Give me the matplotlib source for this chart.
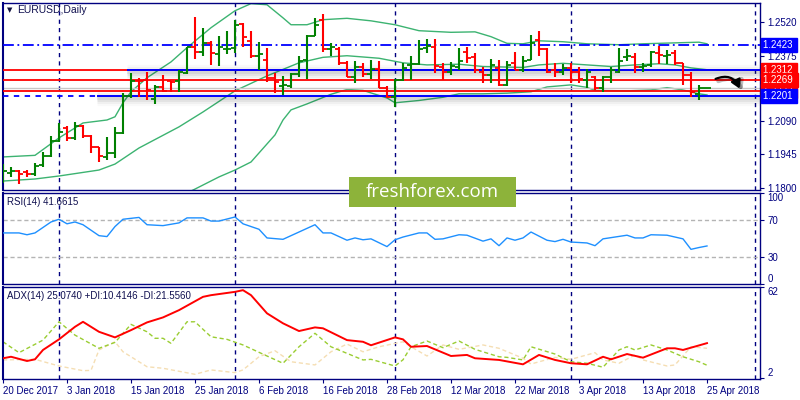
import numpy as np
import pandas as pd
import matplotlib
matplotlib.use("Agg")
import matplotlib.pyplot as plt
import matplotlib.transforms as mtransforms
from matplotlib.patches import FancyArrowPatch, Rectangle

plt.rcParams["font.family"] = ["Liberation Sans", "DejaVu Sans"]

NAVY = "#000080"
BULL = "#008000"
BEAR = "#FF0000"
BAND = "#3CB371"
FS = 7

# trading days (weekdays, no Christmas / New Year)
holidays = ["2017-12-25", "2018-01-01"]
dates = pd.bdate_range("2017-12-20", "2018-04-25")
dates = dates[~dates.isin(pd.to_datetime(holidays))]
tick_labels = ["20 Dec 2017", "3 Jan 2018", "15 Jan 2018", "25 Jan 2018", "6 Feb 2018",
               "16 Feb 2018", "28 Feb 2018", "12 Mar 2018", "22 Mar 2018", "3 Apr 2018",
               "13 Apr 2018", "25 Apr 2018"]
separators = [7, 29, 49, 71, 94]  # first bar of each month (last one is in the future area)

opens = [1.1864, 1.1866, 1.1874, 1.1867, 1.1860, 1.1899, 1.1940, 1.2005, 1.2059, 1.2015,
         1.2069, 1.2027, 1.1976, 1.1935, 1.1950, 1.2037, 1.2200, 1.2267, 1.2270, 1.2186,
         1.2238, 1.2266, 1.2263, 1.2299, 1.2415, 1.2393, 1.2430, 1.2382, 1.2404, 1.2408,
         1.2514, 1.2437, 1.2375, 1.2357, 1.2279, 1.2244, 1.2244, 1.2296, 1.2357, 1.2462,
         1.2532, 1.2404, 1.2405, 1.2343, 1.2284, 1.2324, 1.2295, 1.2317, 1.2234, 1.2197,
         1.2270, 1.2335, 1.2338, 1.2408, 1.2415, 1.2328, 1.2306, 1.2328, 1.2393, 1.2369,
         1.2306, 1.2292, 1.2321, 1.2248, 1.2343, 1.2314, 1.2357, 1.2444, 1.2404, 1.2314,
         1.2302, 1.2321, 1.2302, 1.2270, 1.2284, 1.2234, 1.2284, 1.2306, 1.2369, 1.2369,
         1.2324, 1.2335, 1.2386, 1.2375, 1.2386, 1.2343, 1.2292, 1.2209, 1.2234]
highs = [1.1903, 1.1892, 1.1877, 1.1877, 1.1909, 1.1957, 1.2026, 1.2082, 1.2069, 1.2088,
         1.2074, 1.2030, 1.1979, 1.2023, 1.2065, 1.2213, 1.2300, 1.2279, 1.2306, 1.2248,
         1.2292, 1.2267, 1.2314, 1.2415, 1.2544, 1.2496, 1.2437, 1.2459, 1.2481, 1.2529,
         1.2517, 1.2481, 1.2433, 1.2408, 1.2300, 1.2287, 1.2300, 1.2372, 1.2466, 1.2539,
         1.2558, 1.2431, 1.2415, 1.2350, 1.2353, 1.2343, 1.2357, 1.2350, 1.2241, 1.2273,
         1.2343, 1.2372, 1.2444, 1.2448, 1.2448, 1.2343, 1.2347, 1.2408, 1.2415, 1.2386,
         1.2328, 1.2360, 1.2357, 1.2350, 1.2391, 1.2375, 1.2466, 1.2481, 1.2408, 1.2343,
         1.2340, 1.2345, 1.2328, 1.2317, 1.2287, 1.2287, 1.2328, 1.2408, 1.2404, 1.2386,
         1.2345, 1.2396, 1.2418, 1.2401, 1.2398, 1.2343, 1.2306, 1.2248, 1.2234]
lows = [1.1821, 1.1848, 1.1816, 1.1848, 1.1852, 1.1892, 1.1935, 1.2001, 1.2005, 1.2008,
        1.2018, 1.1953, 1.1914, 1.1921, 1.1930, 1.2034, 1.2191, 1.2197, 1.2180, 1.2165,
        1.2219, 1.2216, 1.2219, 1.2296, 1.2360, 1.2372, 1.2335, 1.2331, 1.2383, 1.2386,
        1.2415, 1.2365, 1.2314, 1.2259, 1.2213, 1.2204, 1.2235, 1.2284, 1.2274, 1.2459,
        1.2393, 1.2372, 1.2335, 1.2282, 1.2258, 1.2284, 1.2273, 1.2234, 1.2190, 1.2153,
        1.2267, 1.2270, 1.2335, 1.2386, 1.2299, 1.2270, 1.2289, 1.2314, 1.2343, 1.2299,
        1.2258, 1.2258, 1.2244, 1.2244, 1.2314, 1.2306, 1.2357, 1.2372, 1.2299, 1.2284,
        1.2292, 1.2256, 1.2256, 1.2234, 1.2226, 1.2215, 1.2256, 1.2299, 1.2350, 1.2299,
        1.2306, 1.2328, 1.2340, 1.2340, 1.2335, 1.2248, 1.2197, 1.2183, 1.2234]
closes = [1.1873, 1.1872, 1.1860, 1.1860, 1.1896, 1.1940, 1.2004, 1.2044, 1.2015, 1.2069,
          1.2027, 1.1976, 1.1938, 1.1950, 1.2037, 1.2200, 1.2263, 1.2263, 1.2226, 1.2238,
          1.2223, 1.2262, 1.2302, 1.2411, 1.2393, 1.2430, 1.2386, 1.2415, 1.2405, 1.2510,
          1.2456, 1.2372, 1.2382, 1.2279, 1.2261, 1.2248, 1.2296, 1.2350, 1.2462, 1.2510,
          1.2404, 1.2413, 1.2344, 1.2284, 1.2328, 1.2295, 1.2317, 1.2234, 1.2197, 1.2270,
          1.2321, 1.2338, 1.2404, 1.2418, 1.2331, 1.2306, 1.2332, 1.2350, 1.2365, 1.2311,
          1.2292, 1.2335, 1.2248, 1.2335, 1.2314, 1.2350, 1.2430, 1.2404, 1.2306, 1.2304,
          1.2321, 1.2302, 1.2273, 1.2302, 1.2234, 1.2284, 1.2314, 1.2354, 1.2375, 1.2328,
          1.2331, 1.2393, 1.2379, 1.2379, 1.2345, 1.2292, 1.2215, 1.2234, 1.2234]

# Bollinger bands, read at selected bars
bb_up_idx = [0, 4, 7, 10, 13, 14, 15, 16, 18, 21, 23, 26, 29, 31, 33, 35, 36, 38, 40, 43,
             46, 49, 52, 56, 59, 61, 63, 65, 67, 70, 73, 77, 80, 84, 87, 88]
bb_up = [1.1934, 1.1941, 1.2017, 1.2082, 1.2095, 1.2109, 1.2170, 1.2218, 1.2279, 1.2348,
         1.2410, 1.2497, 1.2571, 1.2602, 1.2597, 1.2540, 1.2510, 1.2510, 1.2532, 1.2538,
         1.2527, 1.2510, 1.2484, 1.2477, 1.2479, 1.2458, 1.2429, 1.2427, 1.2440, 1.2436,
         1.2427, 1.2423, 1.2427, 1.2431, 1.2434, 1.2427]
bb_mid_idx = [0, 4, 7, 12, 14, 17, 22, 25, 29, 33, 37, 40, 43, 47, 50, 53, 57, 60, 65, 67,
              70, 73, 76, 79, 82, 84, 86, 88]
bb_mid = [1.1829, 1.1838, 1.1851, 1.1877, 1.1903, 1.1973, 1.2065, 1.2130, 1.2222, 1.2287,
          1.2344, 1.2368, 1.2375, 1.2364, 1.2344, 1.2335, 1.2338, 1.2328, 1.2324, 1.2335,
          1.2342, 1.2335, 1.2328, 1.2335, 1.2340, 1.2335, 1.2322, 1.2314]
bb_low_idx = [23, 24, 27, 29, 31, 34, 35, 36, 38, 41, 43, 45, 48, 49, 52, 55, 57, 60, 63,
              66, 68, 71, 73, 74, 78, 81, 83, 85, 87, 88]
bb_low = [1.1777, 1.1794, 1.1847, 1.1877, 1.1912, 1.2030, 1.2095, 1.2139, 1.2165, 1.2207,
          1.2228, 1.2224, 1.2191, 1.2170, 1.2180, 1.2194, 1.2209, 1.2209, 1.2212, 1.2218,
          1.2239, 1.2248, 1.2237, 1.2224, 1.2222, 1.2226, 1.2236, 1.2226, 1.2209, 1.2204]

rsi_idx = [0, 2, 3, 4, 6, 7, 8, 9, 10, 12, 13, 14, 15, 17, 18, 20, 22, 23, 25, 26, 27, 29,
           30, 32, 33, 35, 39, 40, 41, 43, 44, 45, 46, 48, 49, 50, 52, 53, 54, 55, 57, 58,
           60, 61, 62, 63, 64, 65, 66, 68, 69, 70, 71, 73, 74, 75, 78, 79, 80, 81, 83, 85,
           86, 87, 88]
rsi = [56, 56, 54, 56, 68, 71, 66, 68, 65, 53, 52, 63, 71, 73, 65, 64, 67, 72.5, 72.5, 69,
       69, 73.5, 66, 60, 50.5, 49, 65, 56, 56, 48, 50.5, 48.5, 49.5, 41, 48.5, 51.5, 56, 56,
       49, 49.5, 54, 53.5, 47, 49.5, 42, 50.5, 48, 50.5, 57, 48, 46.5, 49, 46, 45, 42, 49.5,
       53.5, 50.5, 50.5, 54, 53.5, 49.5, 38, 40, 41.7]

adx_idx = [0, 1, 3, 4, 5, 7, 9, 10, 12, 14, 16, 18, 20, 22, 25, 26, 29, 30, 31, 33, 35, 37,
           39, 40, 43, 45, 46, 49, 50, 51, 53, 56, 58, 59, 62, 65, 67, 69, 71, 73, 75, 76,
           78, 80, 83, 84, 85, 86, 88]
adx = [15, 16, 13.2, 14.3, 20.5, 27.5, 35.8, 39.1, 32.5, 28.8, 33.6, 38.7, 42, 46.8, 55.6,
       56.7, 58.9, 60, 56.7, 44.7, 38.1, 33, 35.4, 34.8, 27, 25.9, 23.6, 28.8, 27.5, 22.6,
       23.1, 16.5, 17.2, 15, 13.9, 11, 17.2, 13.9, 11.7, 11, 16, 14.3, 17.8, 15.4, 21.6,
       21.6, 20.5, 22, 25]
pdi_idx = [0, 2, 5, 7, 9, 12, 14, 16, 18, 19, 20, 21, 23, 24, 26, 28, 30, 33, 35, 37, 39,
           41, 45, 46, 49, 50, 51, 53, 55, 57, 59, 62, 63, 65, 66, 69, 71, 73, 75, 77, 78,
           79, 81, 83, 85, 87, 88]
pdi = [25.9, 18.7, 27, 39.1, 30.3, 21.6, 25.5, 37.4, 32.5, 28.2, 28.2, 24.9, 39.1, 39.1,
       29.2, 27.5, 23.8, 16.5, 11.7, 22.6, 31.5, 22.6, 13.9, 14.3, 9.9, 14, 22.6, 26.4, 22,
       26.4, 20.9, 16, 15.6, 13.9, 22.6, 17.8, 12.7, 11.7, 9.1, 20.5, 22.6, 20.5, 23.8, 20.5,
       16, 12.7, 10.4]
mdi_idx = [0, 4, 7, 10, 11, 12, 14, 15, 18, 20, 24, 26, 29, 30, 32, 34, 36, 39, 41, 43, 45,
           47, 50, 51, 53, 55, 57, 60, 62, 65, 66, 69, 71, 74, 75, 77, 79, 80, 83, 84, 86, 88]
mdi = [13.9, 14.3, 9.9, 6.8, 7, 20.5, 25.9, 19.3, 9.4, 8.4, 4.4, 7.3, 5.5, 7.3, 16, 20,
       12.7, 10.6, 19.3, 24.4, 19.3, 22.6, 25.9, 22.6, 16.5, 23.8, 20.9, 23.8, 21.6, 15,
       11.2, 15.6, 14.3, 18.7, 13.9, 11.7, 17.2, 13.9, 9.9, 10.6, 22.6, 21.6]

# drawn objects
resistance = 1.2423
box_top, box_bot = 1.2312, 1.2201
red_levels = [1.2312, 1.2269, 1.2222]
box_top_start, box_bot_start = 15.5, 11.75

n = len(dates)
x = np.arange(n)
opens, highs, lows, closes = map(np.array, (opens, highs, lows, closes))

fig = plt.figure(figsize=(8, 4), dpi=100)
L, W = 3 / 800, 757 / 800
ax_p = fig.add_axes([L, 1 - 190 / 400, W, 187.3 / 400])
ax_r = fig.add_axes([L, 1 - 284 / 400, W, 91.2 / 400])
ax_a = fig.add_axes([L, 1 - 379 / 400, W, 92.3 / 400])
xmax = 757 / 8

for ax in (ax_p, ax_r, ax_a):
    ax.set_xlim(0, xmax)
    for s in ax.spines.values():
        s.set_color(NAVY)
        s.set_linewidth(1.0)
    ax.spines["left"].set_linewidth(1.5)
    ax.yaxis.tick_right()
    ax.tick_params(axis="y", direction="out", length=3, color=NAVY, labelcolor=NAVY,
                   labelsize=FS, pad=2.5)
    ax.tick_params(axis="x", bottom=False, labelbottom=False)
    for s in separators:
        ax.axvline(s, color=NAVY, lw=1, ls=(0, (3, 3)), zorder=1)

# ---- price panel
ax_p.set_ylim(1.1790, 1.2606)
ax_p.set_yticks([1.2520, 1.2375, 1.2090, 1.1945, 1.1800])
ax_p.set_yticklabels(["1.2520", "1.2375", "1.2090", "1.1945", "1.1800"])

ax_p.plot(bb_up_idx, bb_up, color=BAND, lw=1, zorder=2)
ax_p.plot(bb_mid_idx, bb_mid, color=BAND, lw=1, zorder=2)
ax_p.plot(bb_low_idx, bb_low, color=BAND, lw=1, zorder=2)

ax_p.axhline(closes[-1], color="#C8C8C8", lw=1, zorder=2)
for lv in red_levels:
    ax_p.axhline(lv, color=BEAR, lw=1.3, zorder=3)
ax_p.axhline(resistance, color="#0000FF", lw=1.3, ls=(0, (6, 2, 1, 2)), zorder=3)

# box lines with soft shadow
px = 0.0004363  # price per pixel
for y0, x0 in ((box_top, box_top_start), (box_bot, box_bot_start)):
    for w, a in ((11, 0.025), (8, 0.035), (5, 0.05), (3, 0.06)):
        ax_p.hlines(y0 - 2 * px, x0, xmax, color="k", alpha=a, lw=w, zorder=2.5)
    ax_p.hlines(y0, x0, xmax, color="#0000FF", lw=1.4, zorder=3.5)
ax_p.hlines(box_bot, 0, box_bot_start, color="#0000FF", lw=1.3, ls=(0, (3, 3)), zorder=3.5)

col = np.where(closes >= opens, BULL, BEAR)
ax_p.vlines(x, lows, highs, colors=col, lw=1.5, zorder=4)
ax_p.hlines(opens, x - 0.45, x, colors=col, lw=1.3, zorder=4)
ax_p.hlines(closes, x, x + 0.45, colors=col, lw=1.3, zorder=4)

# curved arrow with shadow
a0 = (n - 0.25, red_levels[1])
a1 = (n + 3.2, red_levels[1] - 11 * px)
for off, c, al, lw in (((0.35, -2.2 * px), "k", 0.25, 3), ((0, 0), "k", 1, 1.6)):
    arr = FancyArrowPatch((a0[0] + off[0], a0[1] + off[1]), (a1[0] + off[0], a1[1] + off[1]),
                          connectionstyle="arc3,rad=-0.55",
                          arrowstyle="-|>,head_length=5,head_width=3",
                          color=c, alpha=al, lw=lw, zorder=6)
    ax_p.add_patch(arr)

# price boxes on the right
trans = mtransforms.blended_transform_factory(ax_p.transAxes, ax_p.transData)
boxes = [(resistance, "#0000FF"), (red_levels[2], BEAR), (red_levels[0], BEAR),
         (red_levels[1], BEAR), (box_bot, "#0000FF")]
for i, (lv, c) in enumerate(boxes):
    ax_p.text(1.0 + 3 / 757, lv, f"{lv:.4f} ", transform=trans, ha="left", va="center",
              color="white", fontsize=FS, clip_on=False, zorder=10 + i,
              bbox=dict(boxstyle="square,pad=0.22", fc=c, ec=c))

fig.text(7 / 800, 1 - 10 / 400, "\u25bc", fontsize=5, color="#101040", va="center",
         family="DejaVu Sans")
fig.text(17 / 800, 1 - 10 / 400, "EURUSD,Daily", fontsize=FS + 0.5, color="#101050",
         va="center")

# ---- RSI panel
ax_r.set_ylim(0, 100)
ax_r.axhline(70, color="#B4B4B4", lw=1, ls=(0, (3, 2)))
ax_r.axhline(30, color="#B4B4B4", lw=1, ls=(0, (3, 2)))
ax_r.plot(rsi_idx, rsi, color="#1E90FF", lw=1, zorder=3)
ax_r.set_yticks([0, 30, 70, 100])
ax_r.set_yticklabels(["0", "30", "70", "100"])
lbls = ax_r.get_yticklabels()
lbls[0].set_va("bottom")
lbls[-1].set_va("top")
ax_r.text(0.005, 0.95, "RSI(14) 41.6615", transform=ax_r.transAxes, fontsize=FS,
          color="#101050", va="top")

# ---- ADX panel
ax_a.set_ylim(1.3, 62.3)
ax_a.plot(mdi_idx, mdi, color="#F5DEB3", lw=1, ls=(0, (3, 2)), zorder=2)
ax_a.plot(pdi_idx, pdi, color="#9ACD32", lw=1, ls=(0, (3, 2)), zorder=2)
ax_a.plot(adx_idx, adx, color="#FF0000", lw=1.4, zorder=3)
ax_a.set_yticks([2, 62])
ax_a.set_yticklabels(["2", "62"])
lbls = ax_a.get_yticklabels()
lbls[0].set_va("bottom")
lbls[-1].set_va("top")
ax_a.text(0.005, 0.95, "ADX(14) 25.0740 +DI:10.4146 -DI:21.5560", transform=ax_a.transAxes,
          fontsize=FS, color="#101050", va="top")

ax_a.tick_params(axis="x", bottom=True, labelbottom=True, direction="out", length=3,
                 color=NAVY, labelcolor=NAVY, labelsize=FS, pad=2)
ax_a.set_xticks(x[::8])
ax_a.set_xticklabels(tick_labels, ha="left")

# watermark
fig.patches.append(Rectangle((349 / 800, 1 - 207 / 400), 167 / 800, 30 / 400,
                             transform=fig.transFigure, fc="#8DB33A", ec="none", zorder=20))
fig.text(432.5 / 800, 1 - 192.5 / 400, "freshforex.com", fontsize=13.5, color="white",
         ha="center", va="center", zorder=21, family="Open Sans")

fig.savefig("out.png", dpi=100)
